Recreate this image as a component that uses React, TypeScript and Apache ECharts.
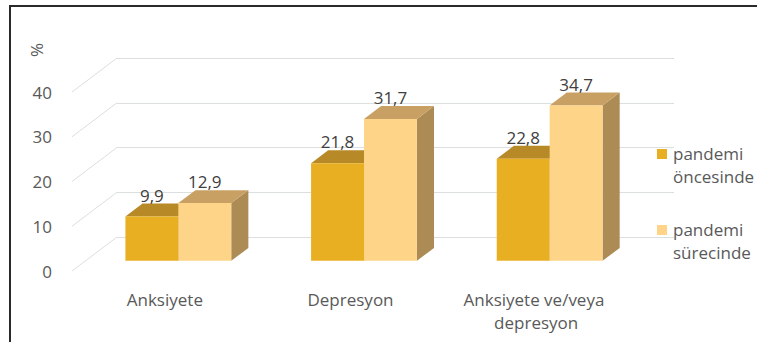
import React, { useEffect, useRef } from "react";
import * as echarts from "echarts";

const CATEGORIES = ["Anksiyete", "Depresyon", "Anksiyete ve/veya depresyon"];
const SERIES_NAMES = ["pandemi öncesinde", "pandemi sürecinde"];
const BEFORE = [9.9, 21.8, 22.8];
const DURING = [12.9, 31.7, 34.7];
const Y_TICKS = [0, 10, 20, 30, 40];
const Y_UNIT = "%";

const FRONT = ["#E9AF22", "#FDD488"];
const TOP = ["#B88A27", "#C9A063"];
const SIDE = ["#9C7620", "#AD8B55"];

const DX = 45; // depth offset, back wall to front plane (x)
const DY = 34; // depth offset (y)
const ZF = 0.7; // bar front face depth
const ZB = 0.32; // bar back face depth
const FONT = "'Open Sans', sans-serif";
const FS = 17;

const fmt = (v: number) => String(v).replace(".", ",");

export default function App() {
  const ref = useRef<HTMLDivElement>(null);
  useEffect(() => {
    document.body.style.margin = "0";
    const chart = echarts.init(ref.current!, null, { renderer: "svg" });

    const barSeries = (s: number, values: number[]) => ({
      type: "custom",
      name: SERIES_NAMES[s],
      xAxisIndex: 0,
      yAxisIndex: 0,
      z: 10 + s,
      data: values.map((v, i) => [i, v]),
      renderItem: (params: any, api: any) => {
        const i = api.value(0);
        const v = api.value(1);
        const base = api.coord([i, 0]);
        const topPt = api.coord([i, v]);
        const bandW = api.size([1, 0])[0];
        const barW = bandW * 0.285;
        const x0 = base[0] + (s === 0 ? -barW : 0) - DX * ZF;
        const x1 = x0 + barW;
        const yb = base[1] + DY * ZF;
        const yt = topPt[1] + DY * ZF;
        const ddx = DX * (ZF - ZB);
        const ddy = DY * (ZF - ZB);
        return {
          type: "group",
          children: [
            {
              type: "polygon",
              shape: { points: [[x1, yt], [x1 + ddx, yt - ddy], [x1 + ddx, yb - ddy], [x1, yb]] },
              style: { fill: SIDE[s] },
            },
            {
              type: "polygon",
              shape: { points: [[x0, yt], [x1, yt], [x1 + ddx, yt - ddy], [x0 + ddx, yt - ddy]] },
              style: { fill: TOP[s] },
            },
            {
              type: "rect",
              shape: { x: x0, y: yt, width: barW, height: yb - yt },
              style: { fill: FRONT[s] },
            },
            {
              type: "text",
              style: {
                text: fmt(v),
                x: x0 + barW / 2,
                y: yt - ddy,
                align: "center",
                verticalAlign: "bottom",
                fill: "#404040",
                font: `${FS}px ${FONT}`,
              },
            },
          ],
        };
      },
    });

    const option: any = {
      animation: false,
      grid: [
        { left: 117, right: 83, top: 58, bottom: 105 },
        { left: 72, right: 128, top: 92, bottom: 71 },
      ],
      xAxis: [
        {
          type: "category",
          gridIndex: 0,
          data: CATEGORIES,
          axisLine: { show: false },
          axisTick: { show: false },
          axisLabel: { show: false },
        },
        {
          type: "category",
          gridIndex: 1,
          data: CATEGORIES,
          axisLine: { show: false },
          axisTick: { show: false },
          axisLabel: {
            interval: 0,
            color: "#595959",
            fontSize: FS,
            fontFamily: FONT,
            margin: 17,
            lineHeight: 23,
            width: 165,
            overflow: "break",
          },
        },
      ],
      yAxis: [
        {
          type: "value",
          gridIndex: 0,
          min: 0,
          max: 40,
          interval: 10,
          axisLine: { show: false },
          axisTick: { show: false },
          axisLabel: { show: false },
          splitLine: { lineStyle: { color: "#DCDFDF", width: 1 } },
        },
        {
          type: "value",
          gridIndex: 1,
          min: 0,
          max: 40,
          interval: 10,
          axisLine: { show: false },
          axisTick: { show: false },
          splitLine: { show: false },
          axisLabel: { color: "#595959", fontSize: FS, fontFamily: FONT, margin: 20 },
        },
      ],
      graphic: [
        {
          type: "rect",
          shape: { x: 10, y: 6, width: 800, height: 400 },
          style: { fill: "none", stroke: "#2a2a2a", lineWidth: 2 },
          silent: true,
        },
        {
          type: "text",
          x: 36,
          y: 50,
          rotation: Math.PI / 2,
          style: {
            text: Y_UNIT,
            align: "center",
            verticalAlign: "middle",
            fill: "#595959",
            font: `${FS}px ${FONT}`,
          },
        },
        ...SERIES_NAMES.flatMap((name, s) => [
          {
            type: "rect",
            shape: { x: 657, y: 149 + s * 76, width: 10, height: 10 },
            style: { fill: FRONT[s] },
          },
          {
            type: "text",
            x: 673,
            y: 142 + s * 76,
            style: {
              text: name.replace(" ", "\n"),
              verticalAlign: "top",
              lineHeight: 23,
              fill: "#595959",
              font: `${FS}px ${FONT}`,
            },
          },
        ]),
      ],
      series: [
        {
          type: "custom",
          xAxisIndex: 0,
          yAxisIndex: 0,
          z: 1,
          silent: true,
          data: Y_TICKS.map((t) => [0, t]),
          renderItem: (params: any, api: any) => {
            const p = api.coord([0, api.value(1)]);
            const bx = params.coordSys.x;
            return {
              type: "line",
              shape: { x1: bx, y1: p[1], x2: bx - DX, y2: p[1] + DY },
              style: { stroke: "#DCDFDF", lineWidth: 1 },
            };
          },
        },
        barSeries(0, BEFORE),
        barSeries(1, DURING),
      ],
    };
    chart.setOption(option);
    return () => chart.dispose();
  }, []);
  return <div ref={ref} style={{ width: 757, height: 342 }} />;
}
